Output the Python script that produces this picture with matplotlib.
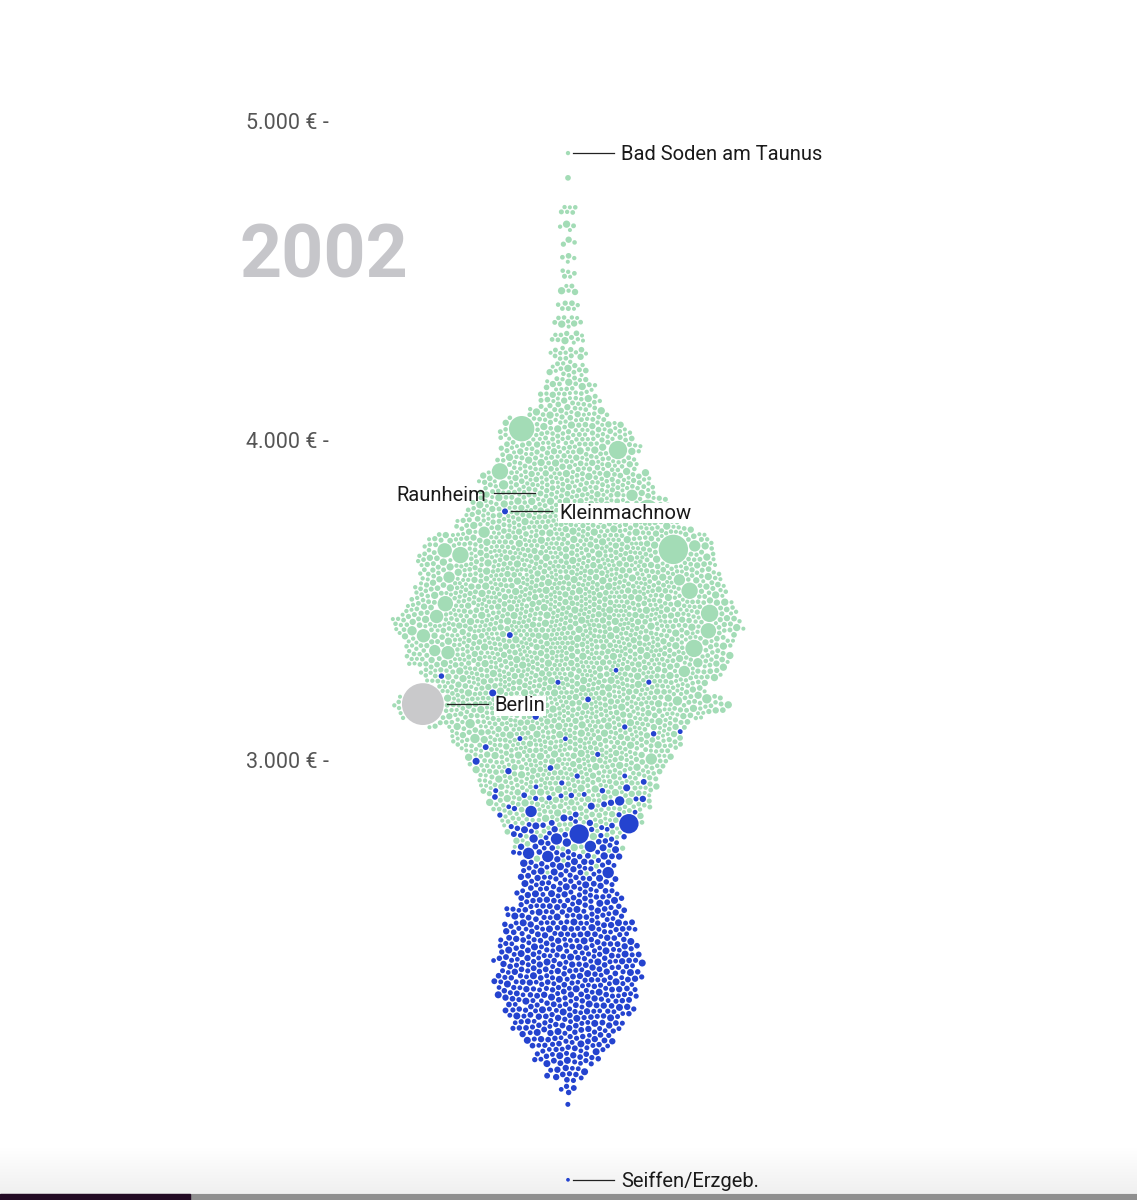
import numpy as np
import matplotlib
matplotlib.use("Agg")
import matplotlib.pyplot as plt
from matplotlib.colors import LinearSegmentedColormap

plt.rcParams['font.family'] = ['Roboto', 'DejaVu Sans']

# income bins (€ per month, 50 € wide) and number of towns per bin
bin_values = [1925, 1975, 2025, 2075, 2125, 2175, 2225, 2275, 2325, 2375,
              2425, 2475, 2525, 2575, 2625, 2675, 2725, 2775, 2825, 2875,
              2925, 2975, 3025, 3075, 3125, 3175, 3225, 3275, 3325, 3375,
              3425, 3475, 3525, 3575, 3625, 3675, 3725, 3775, 3825, 3875,
              3925, 3975, 4025, 4075, 4125, 4175, 4225, 4275, 4325, 4375,
              4425, 4475, 4525, 4575, 4625, 4675, 4725, 4775, 4825, 4875]
west_counts = [0, 0, 0, 0, 0, 0, 0, 0, 0, 0,
               0, 0, 0, 0, 1, 3, 9, 18, 40, 64,
               81, 93, 104, 116, 127, 142, 150, 158, 167, 173,
               175, 172, 167, 157, 146, 133, 115, 100, 86, 78,
               70, 59, 50, 38, 27, 19, 16, 14, 12, 10,
               7, 5, 5, 4, 3, 4, 6, 0, 1, 0]
east_counts = [1, 4, 13, 22, 33, 44, 52, 58, 61, 60,
               56, 52, 47, 40, 31, 26, 20, 18, 16, 12,
               8, 4, 2, 4, 3, 0, 3, 3, 0, 1,
               0, 0, 0, 0, 0, 0, 0, 0, 0, 0,
               0, 0, 0, 0, 0, 0, 0, 0, 0, 0,
               0, 0, 0, 0, 0, 0, 0, 0, 0, 0]

# typical town sizes (thousand inhabitants) for the small circles
west_typical_pop = [3, 1, 6, 2, 12, 4, 1, 8, 3, 20, 2, 5, 1, 35, 4, 2]
east_typical_pop = [6, 10, 4, 14, 8, 20, 5, 12, 30, 7]

# bigger towns: income and population (thousand)
west_big_values = [4036, 3964, 3889, 3764, 3648, 3651, 3632, 3520, 3495, 3448,
                   3466, 3347, 3363, 3426, 3347, 3279, 3416, 3823, 3714, 3648,
                   3880, 3567, 3576, 3009, 3091, 3332, 3401, 3191, 3103, 3200]
west_big_pop = [1111, 516, 388, 744, 388, 1552, 278, 388, 331, 450,
                230, 450, 230, 331, 147, 147, 230, 147, 147, 147,
                83, 147, 147, 147, 83, 83, 83, 83, 83, 83]
east_big_values = [2818, 2772, 2847, 2881, 2768, 2715, 2728, 2715, 2649, 2759,
                   2743, 2728, 2668, 2665]
east_big_pop = [588, 588, 147, 83, 147, 147, 147, 147, 147, 57, 57, 37, 37, 37]

# labelled towns
label_names = ["Berlin", "Bad Soden am Taunus", "Raunheim", "Seiffen/Erzgeb.", "Kleinmachnow"]
label_values = [3178, 4903, 3815, 1689, 3776]
label_pop = [3390, 2, 14, 0.3, 15]
label_group = ["berlin", "west", "west", "east", "east"]
label_side = ["right", "right", "left", "right", "right"]
label_box = [True, False, False, False, True]
label_slot = [0, 1, 7, 3, 10]   # start slot in the layout sequence

colors = {"west": "#a3dcb6", "east": "#2443cf", "berlin": "#c9c9cb"}

CX = 568.0


def to_px(v):
    return 761.0 - (np.asarray(v, float) - 3000.0) * 0.3195


def to_eur(py):
    return 3000.0 + (761.0 - np.asarray(py, float)) / 0.3195


def radius(p):
    return 1.7 + 0.33 * np.sqrt(np.asarray(p, float))


# collect all circles
vals, pops, grp = [], [], []
vals += label_values
pops += label_pop
grp += label_group
vals += west_big_values
pops += west_big_pop
grp += ["west"] * len(west_big_values)
vals += east_big_values
pops += east_big_pop
grp += ["east"] * len(east_big_values)
k = 0
for v, n in zip(bin_values, west_counts):
    for _ in range(n):
        vals.append(v)
        pops.append(west_typical_pop[k % len(west_typical_pop)])
        grp.append("west")
        k += 1
k = 0
for v, n in zip(bin_values, east_counts):
    for _ in range(n):
        vals.append(v)
        pops.append(east_typical_pop[k % len(east_typical_pop)])
        grp.append("east")
        k += 1

vals = np.array(vals, float)
r = radius(pops)
N = len(vals)
ty = to_px(vals)
PAD = 1.1
nl = len(label_names)
nwb = len(west_big_values)

# rough half width of each bin, for the starting positions
bidx = np.clip(np.round((vals - bin_values[0]) / 50).astype(int), 0, len(bin_values) - 1)
area = np.bincount(bidx, np.pi * (r + PAD / 2) ** 2 / 0.86, len(bin_values))
W = area[bidx] / 16.0 / 2.0
slot = np.arange(N) + 20.0
slot[:nl] = label_slot
ph1 = (slot * 0.6180339887) % 1.0
ph2 = (slot * 0.7548776662) % 1.0
lean = 2 * ph1 - 1
# the bigger western towns start out on the flanks, alternating sides
lean[nl:nl + nwb] = 0.85 * np.where(np.arange(nwb) % 2 == 0, -1.0, 1.0)
x = CX + np.maximum(W - r, 0) * lean
y = ty + 15 * (ph2 - 0.5)

mass = r ** 2


def build_pairs(x, y, margin):
    order = np.argsort(y)
    ys = y[order]
    reach = r[order] + r.max() + margin
    hi = np.searchsorted(ys, ys + reach, side="right")
    cnt = np.maximum(hi - (np.arange(N) + 1), 0)
    I = np.repeat(np.arange(N), cnt)
    start = np.repeat(np.cumsum(cnt) - cnt, cnt)
    J = I + 1 + (np.arange(cnt.sum()) - start)
    i, j = order[I], order[J]
    d = np.hypot(x[j] - x[i], y[j] - y[i])
    keep = d < r[i] + r[j] + PAD + margin
    return i[keep], j[keep]


def collide(x, y, I, J, relax=0.5):
    dx = x[J] - x[I]
    dy = y[J] - y[I]
    d = np.sqrt(dx * dx + dy * dy) + 1e-9
    ov = r[I] + r[J] + PAD - d
    m = ov > 0
    if not m.any():
        return
    ii, jj = I[m], J[m]
    ux, uy = dx[m] / d[m], dy[m] / d[m]
    o = ov[m] * relax
    wi = mass[jj] / (mass[ii] + mass[jj])
    wj = 1.0 - wi
    x += np.bincount(ii, -ux * o * wi, N) + np.bincount(jj, ux * o * wj, N)
    y += np.bincount(ii, -uy * o * wi, N) + np.bincount(jj, uy * o * wj, N)


kx = 0.0015
ky = 0.02
n_iter = 380
for it in range(n_iter):
    a = 1.0 - it / n_iter
    x += (CX - x) * kx * a
    y += (ty - y) * ky * a
    if it % 4 == 0:
        I, J = build_pairs(x, y, 5.0)
    for _ in range(3):
        collide(x, y, I, J)
for it in range(60):
    if it % 5 == 0:
        I, J = build_pairs(x, y, 5.0)
    collide(x, y, I, J, 0.6)

# ---- drawing ----
fig = plt.figure(figsize=(11.37, 12), dpi=100)

# faint grey band at the bottom and progress bar
axg = fig.add_axes([0, 7 / 1200, 1, 45 / 1200])
grad = np.linspace(0, 1, 100).reshape(-1, 1)
axg.imshow(grad, aspect="auto", cmap=LinearSegmentedColormap.from_list("g", ["#f0f0f0", "#ffffff"]),
           extent=[0, 1, 0, 1], origin="lower")
axg.axis("off")
fig.patches.append(plt.Rectangle((0, 0), 1, 6 / 1200, transform=fig.transFigure,
                                 color="#8f8f8f", zorder=0))
fig.patches.append(plt.Rectangle((0, 0), 190 / 1137, 6 / 1200, transform=fig.transFigure,
                                 color="#230b24", zorder=1))

ax = fig.add_axes([0, 0, 1, 1])
ax.patch.set_alpha(0)
ax.set_xlim(0, 1137)
ax.set_ylim(to_eur(1200), to_eur(0))
ax.axis("off")

ax.scatter(x, to_eur(y), s=(2 * r * 0.72) ** 2, c=[colors[g] for g in grp],
           linewidths=0, zorder=2)

for v in [3000, 4000, 5000]:
    ax.text(329, to_eur(to_px(v) + 7), f"{v // 1000}.000 € -", ha="right", va="baseline",
            fontsize=15.5, color="#555555")

ax.text(240, to_eur(278), "2002", fontsize=53, fontweight="bold", color="#c6c6ca",
        ha="left", va="baseline")

for i, name in enumerate(label_names):
    px, py, pr = x[i], y[i], r[i]
    if label_side[i] == "right":
        x0 = px + pr + 3
        x1 = x0 + 41
        tx, ha = x1 + 7, "left"
    else:
        x1 = px - pr - 3
        x0 = x1 - 41
        tx, ha = x0 - 7, "right"
    ax.plot([x0, x1], [to_eur(py), to_eur(py)], color="#222222", lw=0.9, zorder=3)
    box = dict(facecolor="white", edgecolor="none", pad=0.5) if label_box[i] else None
    ax.text(tx, to_eur(py + 7.3), name, ha=ha, va="baseline", fontsize=14.5, color="#1a1a1a",
            zorder=4, bbox=box)

fig.savefig("out.png", dpi=100)
